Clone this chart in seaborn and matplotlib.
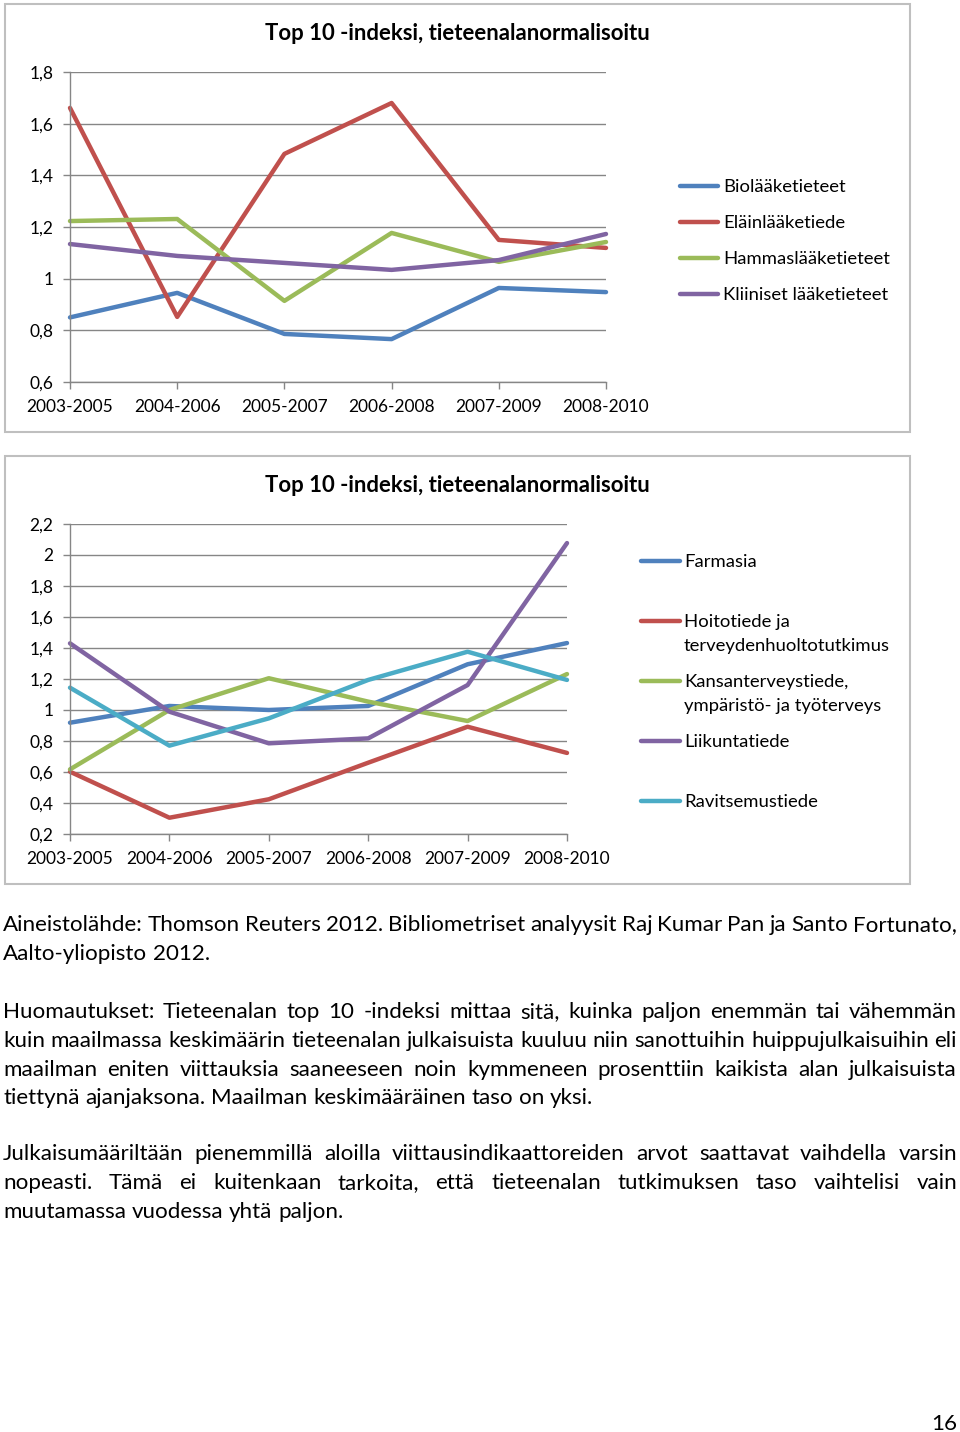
import matplotlib
matplotlib.use('Agg')
import numpy as np
import pandas as pd
import matplotlib.pyplot as plt
import seaborn as sns
from matplotlib.lines import Line2D
from matplotlib.patches import Rectangle
from matplotlib.ticker import FuncFormatter

# Data
periods = ['2003-2005', '2004-2006', '2005-2007', '2006-2008', '2007-2009', '2008-2010']

# Chart 1
fields_1 = ['Biolääketieteet', 'Eläinlääketiede', 'Hammaslääketieteet', 'Kliiniset lääketieteet']
biolaaketieteet = [0.85, 0.945, 0.786, 0.766, 0.964, 0.948]
elainlaaketiede = [1.661, 0.852, 1.483, 1.680, 1.150, 1.119]
hammaslaaketieteet = [1.223, 1.231, 0.914, 1.177, 1.065, 1.142]
kliiniset = [1.134, 1.088, 1.061, 1.034, 1.072, 1.173]

# Chart 2
fields_2 = ['Farmasia', 'Hoitotiede ja\nterveydenhuoltotutkimus',
            'Kansanterveystiede,\nympäristö- ja työterveys', 'Liikuntatiede', 'Ravitsemustiede']
farmasia = [0.918, 1.026, 1.0, 1.026, 1.295, 1.432]
hoitotiede = [0.602, 0.305, 0.424, 0.66, 0.892, 0.723]
kansanterveys = [0.617, 1.0, 1.205, 1.054, 0.929, 1.232]
liikuntatiede = [1.430, 0.989, 0.785, 0.817, 1.161, 2.077]
ravitsemus = [1.144, 0.770, 0.946, 1.194, 1.376, 1.194]

colors_1 = ['#4F81BD', '#C0504D', '#9BBB59', '#8064A2']
colors_2 = ['#4F81BD', '#C0504D', '#9BBB59', '#8064A2', '#4BACC6']

title = 'Top 10 -indeksi, tieteenalanormalisoitu'

df1 = pd.DataFrame({'Jakso': periods * 4,
                    'Tieteenala': np.repeat(fields_1, 6),
                    'Indeksi': biolaaketieteet + elainlaaketiede + hammaslaaketieteet + kliiniset})
df2 = pd.DataFrame({'Jakso': periods * 5,
                    'Tieteenala': np.repeat(fields_2, 6),
                    'Indeksi': farmasia + hoitotiede + kansanterveys + liikuntatiede + ravitsemus})

W, H = 960, 1432
sns.set_theme(style='white')
plt.rcParams['font.family'] = ['Lato', 'DejaVu Sans']

fig = plt.figure(figsize=(W / 100, H / 100), dpi=100)

def fx(px):
    return px / W

def fy(py):
    return 1 - py / H

GRID = '#868686'
TICK_SIZE = 12.5
LEGEND_SIZE = 13.3

def comma_fmt(v, pos):
    s = f'{v:.1f}'
    if s.endswith('.0'):
        s = s[:-2]
    return s.replace('.', ',')

def draw_panel(top, ax_right, df, fields, colors, ylim, legend_x, legend_rows):
    # panel border
    fig.add_artist(Rectangle((fx(5), fy(top + 428)), fx(905), 428 / H, transform=fig.transFigure,
                             fill=False, ec='#BFBFBF', lw=1.5))
    ax = fig.add_axes([fx(70), fy(top + 378), fx(ax_right - 70), 310 / H])
    sns.lineplot(data=df, x='Jakso', y='Indeksi', hue='Tieteenala', hue_order=fields,
                 palette=colors, linewidth=3.2, legend=False, ax=ax)
    for ln in ax.get_lines():
        ln.set_solid_joinstyle('round')
        ln.set_clip_on(False)
    ax.set_xlim(0, 5)
    ax.set_ylim(*ylim)
    ax.set_yticks(np.arange(ylim[0], ylim[1] + 0.01, 0.2))
    ax.yaxis.set_major_formatter(FuncFormatter(comma_fmt))
    ax.set_xlabel('')
    ax.set_ylabel('')
    ax.yaxis.grid(True, color=GRID, lw=1)
    ax.xaxis.grid(False)
    ax.set_axisbelow(True)
    for side in ['top', 'right']:
        ax.spines[side].set_visible(False)
    for side in ['left', 'bottom']:
        ax.spines[side].set_color(GRID)
        ax.spines[side].set_linewidth(1)
    ax.tick_params(axis='both', direction='out', length=5, width=1, color=GRID,
                   labelsize=TICK_SIZE, labelcolor='black', pad=7, left=True, bottom=True)
    fig.text(fx(457), fy(top + 30), title, ha='center', va='center',
             fontweight='bold', fontsize=15.9, color='black')
    # legend
    x0, x1, xt, line_gap = legend_x
    for name, color, ypx in zip(fields, colors, legend_rows):
        fig.add_artist(Line2D([fx(x0), fx(x1)], [fy(ypx), fy(ypx)], transform=fig.transFigure,
                              color=color, lw=3.2))
        for k, part in enumerate(name.split('\n')):
            fig.text(fx(xt), fy(ypx + k * line_gap + 6), part, ha='left', va='baseline',
                     fontsize=LEGEND_SIZE, color='black')
    return ax

draw_panel(4, 606, df1, fields_1, colors_1, (0.6, 1.8), (680, 718, 723, 24), [186, 222, 258, 294])
draw_panel(456, 567, df2, fields_2, colors_2, (0.2, 2.2), (641, 680, 684, 24), [561, 621, 681, 741, 801])

# Body text, justified like the source page
renderer = fig.canvas.get_renderer()

def text_width(s, size):
    t = fig.text(0, 0, s, fontsize=size)
    w = t.get_window_extent(renderer).width
    t.remove()
    return w

body_lines = [
    ('Aineistolähde: Thomson Reuters 2012. Bibliometriset analyysit Raj Kumar Pan ja Santo Fortunato,', 931, True),
    ('Aalto-yliopisto 2012.', 960, False),
    ('Huomautukset: Tieteenalan top 10 -indeksi mittaa sitä, kuinka paljon enemmän tai vähemmän', 1018, True),
    ('kuin maailmassa keskimäärin tieteenalan julkaisuista kuuluu niin sanottuihin huippujulkaisuihin eli', 1047, True),
    ('maailman eniten viittauksia saaneeseen noin kymmeneen prosenttiin kaikista alan julkaisuista', 1076, True),
    ('tiettynä ajanjaksona. Maailman keskimääräinen taso on yksi.', 1104, False),
    ('Julkaisumääriltään pienemmillä aloilla viittausindikaattoreiden arvot saattavat vaihdella varsin', 1160, True),
    ('nopeasti. Tämä ei kuitenkaan tarkoita, että tieteenalan tutkimuksen taso vaihtelisi vain', 1189, True),
    ('muutamassa vuodessa yhtä paljon.', 1218, False),
]

LEFT, RIGHT = 3, 957
base = 14
natural = text_width(body_lines[3][0], base)
body_size = base * (RIGHT - LEFT - 2) / natural

space_w = text_width('a a', body_size) - text_width('aa', body_size)
for line, ybase, justify in body_lines:
    words = line.split(' ')
    widths = [text_width(w, body_size) for w in words]
    if justify and len(words) > 1:
        gap = (RIGHT - LEFT - sum(widths)) / (len(words) - 1)
    else:
        gap = space_w
    x = LEFT
    for w, wd in zip(words, widths):
        fig.text(fx(x), fy(ybase), w, ha='left', va='baseline', fontsize=body_size, color='black')
        x += wd + gap

fig.text(fx(957), fy(1430), '16', ha='right', va='baseline', fontsize=body_size, color='black')

fig.savefig('out.png', dpi=100, facecolor='white')
